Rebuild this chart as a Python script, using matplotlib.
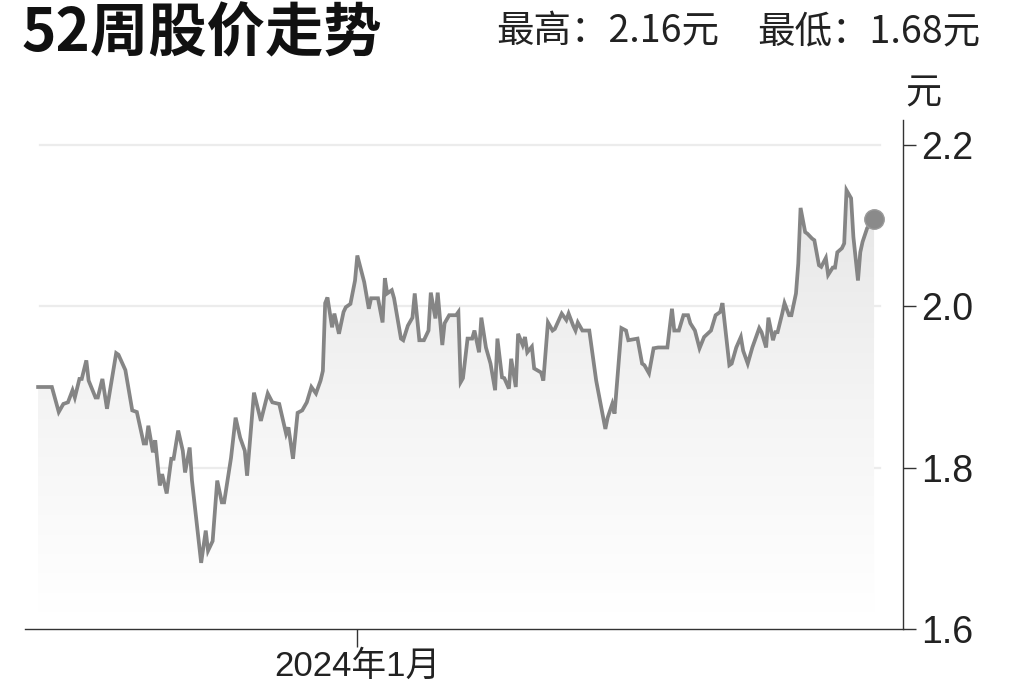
import numpy as np
import pandas as pd
import matplotlib
matplotlib.use("Agg")
import matplotlib.pyplot as plt
import matplotlib.dates as mdates
from matplotlib.colors import LinearSegmentedColormap

# ---------------- data ----------------
start_date = "2023-08-15"
days = [0, 6, 9, 11, 13, 15, 16, 18, 19, 21, 22, 25, 26, 28, 30, 34, 35, 38, 41, 43,
        46, 47, 48, 50, 51, 53, 54, 56, 58, 59, 61, 63, 64, 66, 67, 71, 73, 74, 76, 78,
        80, 81, 84, 86, 88, 90, 91, 94, 97, 100, 102, 105, 108, 109, 111, 113, 115, 117, 119, 121,
        123, 124, 125, 126, 128, 129, 131, 133, 134, 136, 138, 139, 141, 142, 144, 145, 148, 150, 151, 152,
        154, 155, 158, 159, 161, 163, 164, 166, 168, 170, 171, 173, 174, 176, 177, 179, 182, 183, 184, 185,
        187, 189, 190, 192, 193, 195, 197, 199, 200, 202, 203, 205, 206, 208, 209, 211, 212, 213, 215, 216,
        219, 220, 222, 224, 225, 228, 230, 231, 233, 234, 235, 237, 240, 243, 247, 248, 250, 251, 254, 256,
        257, 261, 263, 264, 266, 268, 270, 274, 276, 277, 279, 281, 283, 284, 286, 288, 290, 293, 295, 297,
        298, 301, 302, 304, 306, 307, 309, 311, 314, 315, 317, 318, 320, 321, 322, 324, 325, 327, 328, 330,
        331, 332, 333, 334, 335, 337, 338, 340, 341, 343, 344, 346, 347, 348, 350, 351, 352, 354, 355, 357,
        358, 359, 361, 363, 364]
prices = [1.900, 1.900, 1.869, 1.879, 1.881, 1.896, 1.887, 1.910, 1.910, 1.933, 1.908, 1.887, 1.887, 1.910, 1.873, 1.942, 1.940, 1.921, 1.871, 1.869,
          1.830, 1.830, 1.852, 1.819, 1.834, 1.778, 1.792, 1.768, 1.811, 1.811, 1.846, 1.821, 1.794, 1.825, 1.784, 1.682, 1.722, 1.697, 1.709, 1.784,
          1.757, 1.757, 1.812, 1.862, 1.837, 1.821, 1.790, 1.893, 1.858, 1.892, 1.881, 1.879, 1.842, 1.850, 1.811, 1.868, 1.871, 1.881, 1.900, 1.892,
          1.908, 1.920, 2.004, 2.011, 1.974, 1.991, 1.966, 1.993, 1.999, 2.003, 2.032, 2.063, 2.041, 2.030, 1.997, 2.010, 2.010, 1.980, 2.035, 2.016,
          2.020, 2.010, 1.960, 1.958, 1.976, 1.986, 2.016, 1.958, 1.958, 1.970, 2.017, 1.985, 2.017, 1.952, 1.979, 1.989, 1.989, 1.993, 1.906, 1.911,
          1.960, 1.960, 1.970, 1.943, 1.986, 1.949, 1.929, 1.896, 1.960, 1.912, 1.911, 1.898, 1.935, 1.900, 1.966, 1.952, 1.962, 1.943, 1.950, 1.923,
          1.918, 1.908, 1.980, 1.970, 1.972, 1.991, 1.983, 1.991, 1.976, 1.970, 1.980, 1.970, 1.970, 1.908, 1.848, 1.862, 1.879, 1.867, 1.973, 1.970,
          1.958, 1.960, 1.929, 1.927, 1.917, 1.948, 1.949, 1.949, 1.997, 1.970, 1.970, 1.989, 1.989, 1.979, 1.970, 1.948, 1.962, 1.970, 1.989, 1.993,
          2.004, 1.927, 1.929, 1.949, 1.962, 1.945, 1.929, 1.949, 1.973, 1.968, 1.949, 1.986, 1.958, 1.968, 1.968, 1.991, 2.004, 1.989, 1.989, 2.016,
          2.053, 2.122, 2.107, 2.092, 2.090, 2.084, 2.082, 2.051, 2.049, 2.060, 2.039, 2.048, 2.048, 2.067, 2.072, 2.078, 2.144, 2.134, 2.086, 2.032,
          2.067, 2.080, 2.097, 2.103, 2.108]
y_ticks = [1.6, 1.8, 2.0, 2.2]
y_tick_labels = ["1.6", "1.8", "2.0", "2.2"]
x_tick_dates = ["2024-01-01"]
x_tick_labels = ["2024年1月"]
title = "52周股价走势"
hi_text = "最高：2.16元"
lo_text = "最低：1.68元"
unit = "元"

# ---------------- figure ----------------
plt.rcParams['font.family'] = ['Liberation Sans', 'Noto Sans CJK SC', 'DejaVu Sans']
W, H = 1024, 682
fig = plt.figure(figsize=(W / 100, H / 100), dpi=100)
fig.patch.set_facecolor("white")
ax = fig.add_axes([25 / W, 1 - 629 / H, (903 - 25) / W, (629 - 120) / H])

t0 = pd.Timestamp(start_date)
dates = t0 + pd.to_timedelta(days, unit="D")
xn = mdates.date2num(dates)
y = np.array(prices)

x_left = mdates.date2num(t0 - pd.Timedelta(days=5.7))
x_right = mdates.date2num(t0 + pd.Timedelta(days=376.6))
ylo, yhi = 1.6, 2.231
ax.set_xlim(x_left, x_right)
ax.set_ylim(ylo, yhi)

# gradient fill under line
poly = ax.fill_between(xn, y, ylo, color="none", lw=0)
grad = np.linspace(0, 1, 256).reshape(-1, 1)
cmap = LinearSegmentedColormap.from_list("g", ["#ffffff", "#f4f4f4", "#e6e6e6"])
im = ax.imshow(grad, extent=[x_left, x_right, 1.62, 2.15], origin="lower", aspect="auto",
               cmap=cmap, zorder=1)
im.set_clip_path(poly.get_paths()[0], transform=ax.transData)

# grid lines
for v in [1.8, 2.0, 2.2]:
    ax.axhline(v, xmin=(40 - 25) / 878, xmax=(880 - 25) / 878, color="#ececec", lw=1.6, zorder=0.5)

ax.plot(xn, y, color="#858585", lw=2.7, zorder=3, solid_joinstyle="miter")
ax.plot(xn[-1:], y[-1:], "o", ms=14, color="#8a8a8a", mec="#9a9a9a", zorder=4)

# spines/ticks
for s in ["left", "top"]:
    ax.spines[s].set_visible(False)
for s in ["right", "bottom"]:
    ax.spines[s].set_color("#333333")
    ax.spines[s].set_linewidth(1.0)
ax.yaxis.tick_right()
ax.set_yticks(y_ticks)
ax.set_yticklabels(y_tick_labels)
ax.tick_params(axis="y", direction="out", length=9, width=1.0, color="#333333",
               labelsize=27, labelcolor="#222222", pad=4)
ax.set_xticks(mdates.date2num(pd.to_datetime(x_tick_dates)))
ax.set_xticklabels(x_tick_labels)
ax.tick_params(axis="x", direction="out", length=13, width=1.0, color="#333333",
               labelsize=25, labelcolor="#222222", pad=2)

# texts
fig.text(22 / W, 1 - 51 / H, title, fontsize=42, fontweight="heavy",
         family=['Noto Sans CJK SC', 'DejaVu Sans'], color="#111111", va="baseline", ha="left")
fig.text(496 / W, 1 - 42 / H, hi_text, fontsize=27,
         family=['Noto Sans CJK SC', 'DejaVu Sans'], color="#222222", va="baseline", ha="left")
fig.text(757 / W, 1 - 42 / H, lo_text, fontsize=27,
         family=['Noto Sans CJK SC', 'DejaVu Sans'], color="#222222", va="baseline", ha="left")
fig.text(905 / W, 1 - 103 / H, unit, fontsize=26,
         family=['Noto Sans CJK SC', 'DejaVu Sans'], color="#222222", va="baseline", ha="left")

fig.savefig("out.png", dpi=100, facecolor="white")
